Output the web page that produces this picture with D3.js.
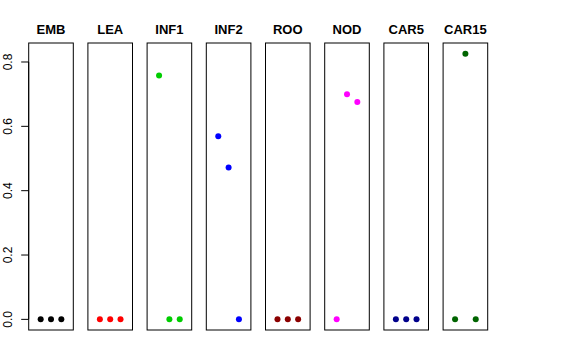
<!DOCTYPE html>
<html>
<head>
<meta charset="utf-8">
<script src="https://cdn.jsdelivr.net/npm/d3@7"></script>
<style>
  body { margin: 0; background: #fff; }
  svg { display: block; }
  text { font-family: "Liberation Sans", Arial, sans-serif; }
</style>
</head>
<body>
<svg id="chart" width="576" height="360"></svg>
<script>
// panel names, colours, and the three values drawn in each panel
var panels = ["EMB", "LEA", "INF1", "INF2", "ROO", "NOD", "CAR5", "CAR15"];
var colors = ["#000000", "#FF0000", "#00CD00", "#0000FF", "#8B0000", "#FF00FF", "#00008B", "#006400"];
var values = [
  [0, 0, 0],
  [0, 0, 0],
  [0.758, 0, 0],
  [0.569, 0.472, 0],
  [0, 0, 0],
  [0, 0.700, 0.676],
  [0, 0, 0],
  [0, 0.826, 0]
];
var yTicks = [0, 0.2, 0.4, 0.6, 0.8];

var svg = d3.select("#chart");

// note: "top" is taken by window.top, so plot edges are named panelTop/panelBottom
var left0 = 28.7, pitch = 59.2, pw = 44.6;
var panelTop = 43, panelBottom = 330;

var ymax = d3.max(values, function(v) { return d3.max(v); });
var pad = ymax * 0.04;
var y = d3.scaleLinear().domain([-pad, ymax + pad]).range([panelBottom, panelTop]);
var x = d3.scaleLinear().domain([-0.16, 4.16]).range([0, pw]);

// y axis, on the first panel only
var axis = svg.append("g").attr("transform", "translate(" + left0 + ",0)");
axis.append("line")
  .attr("x1", 0).attr("x2", 0)
  .attr("y1", y(0)).attr("y2", y(0.8))
  .attr("stroke", "#000");
yTicks.forEach(function(t) {
  axis.append("line")
    .attr("x1", -7.5).attr("x2", 0)
    .attr("y1", y(t)).attr("y2", y(t))
    .attr("stroke", "#000");
  axis.append("text")
    .attr("transform", "translate(-16.3," + y(t) + ") rotate(-90)")
    .attr("text-anchor", "middle")
    .attr("font-size", "12px")
    .text(d3.format(".1f")(t));
});

panels.forEach(function(name, i) {
  var g = svg.append("g")
    .attr("transform", "translate(" + (left0 + i * pitch) + ",0)");

  g.append("rect")
    .attr("x", 0).attr("y", panelTop)
    .attr("width", pw).attr("height", panelBottom - panelTop)
    .attr("fill", "none")
    .attr("stroke", "#000");

  g.append("text")
    .attr("x", pw / 2).attr("y", 34)
    .attr("text-anchor", "middle")
    .attr("font-size", "13px")
    .attr("font-weight", "bold")
    .text(name);

  g.selectAll("circle")
    .data(values[i])
    .enter().append("circle")
    .attr("cx", function(d, j) { return x(j + 1); })
    .attr("cy", function(d) { return y(d); })
    .attr("r", 3)
    .attr("fill", colors[i]);
});
</script>
</body>
</html>
